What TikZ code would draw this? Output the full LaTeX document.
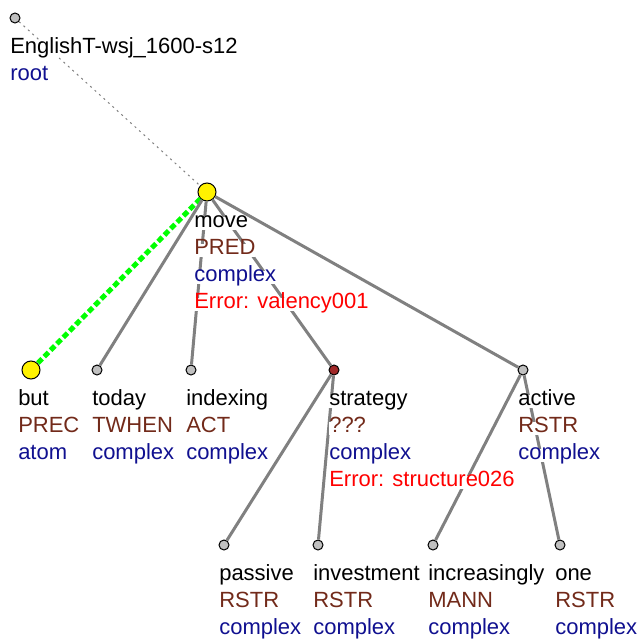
\documentclass[tikz,border=0pt]{standalone}
\usepackage{fontspec}
\setmainfont{Liberation Sans}
\definecolor{dotgray}{HTML}{C0C0C0}
\definecolor{linkgray}{HTML}{808080}
\definecolor{funcbrown}{HTML}{722A1A}
\definecolor{kindblue}{HTML}{101090}
\definecolor{errred}{HTML}{FF0000}
\definecolor{strategyred}{HTML}{A02828}
\definecolor{paragreen}{HTML}{00FF00}

\begin{document}
\begin{tikzpicture}[x=0.75pt,y=-0.75pt,
    font=\fontsize{16.5}{20}\selectfont,
    dot/.style={circle,draw=black,line width=0.75pt,fill=dotgray,minimum size=7.5pt,inner sep=0pt},
    bigdot/.style={dot,fill=yellow,minimum size=13.5pt},
    txt/.style={anchor=base west,inner sep=0pt,fill=white,text height=0.72em,text depth=0.21em},
    word/.style={txt,text=black},
    func/.style={txt,text=funcbrown},
    kind/.style={txt,text=kindblue},
    err/.style={txt,text=errred},
    link/.style={draw=linkgray,line width=2.25pt},
    rootlink/.style={draw=linkgray,line width=0.75pt,dash pattern=on 1.5pt off 3pt},
    paralink/.style={draw=paragreen,line width=3.75pt,dash pattern=on 4.5pt off 2.25pt}]
\useasboundingbox (0,0) rectangle (640,639);
%% the dots of the tree
    \node[dot] (root) at (15,18) {};
    \node[bigdot] (move) at (207,192) {};
    \node[bigdot] (but) at (31,370) {};
    \node[dot,fill=strategyred] (strategy) at (334,370) {};
    \foreach \n/\x/\y in {today/97/370, indexing/191/370, active/523/370,
        passive/224/545, investment/318/545, increasingly/433/545, one/560/545}
        \node[dot] (\n) at (\x,\y) {};
%% edges go under the labels
    \draw[rootlink] (root) -- (move);
    \draw[paralink] (move) -- (but);
    \foreach \a/\b in {move/today, move/indexing, move/strategy, move/active,
        strategy/passive, strategy/investment, active/increasingly, active/one}
        \draw[link] (\a) -- (\b);
%% labels: word, functor, type
    \node[word] (root-w) at (10,53) {EnglishT-wsj\_1600-s12};
    \node[kind] (root-t) at (10,80) {root};
    \foreach \n/\x/\y/\w/\f/\t in {move/194/192/move/PRED/complex,
        but/18/370/but/PREC/atom, today/92/370/today/TWHEN/complex,
        indexing/186/370/indexing/ACT/complex, strategy/329/370/strategy/???/complex,
        active/518/370/active/RSTR/complex, passive/219/545/passive/RSTR/complex,
        investment/313/545/investment/RSTR/complex,
        increasingly/428/545/increasingly/MANN/complex, one/555/545/one/RSTR/complex}
    {
        \node[word] (\n-w) at (\x,\y+35) {\w};
        \node[func] (\n-f) at (\x,\y+62) {\f};
        \node[kind] (\n-t) at (\x,\y+89) {\t};
    }
%% error messages
    \node[err] (move-e) at (194,308) {Error: valency001};
    \node[err] (strategy-e) at (329,486) {Error: structure026};
\end{tikzpicture}
\end{document}
